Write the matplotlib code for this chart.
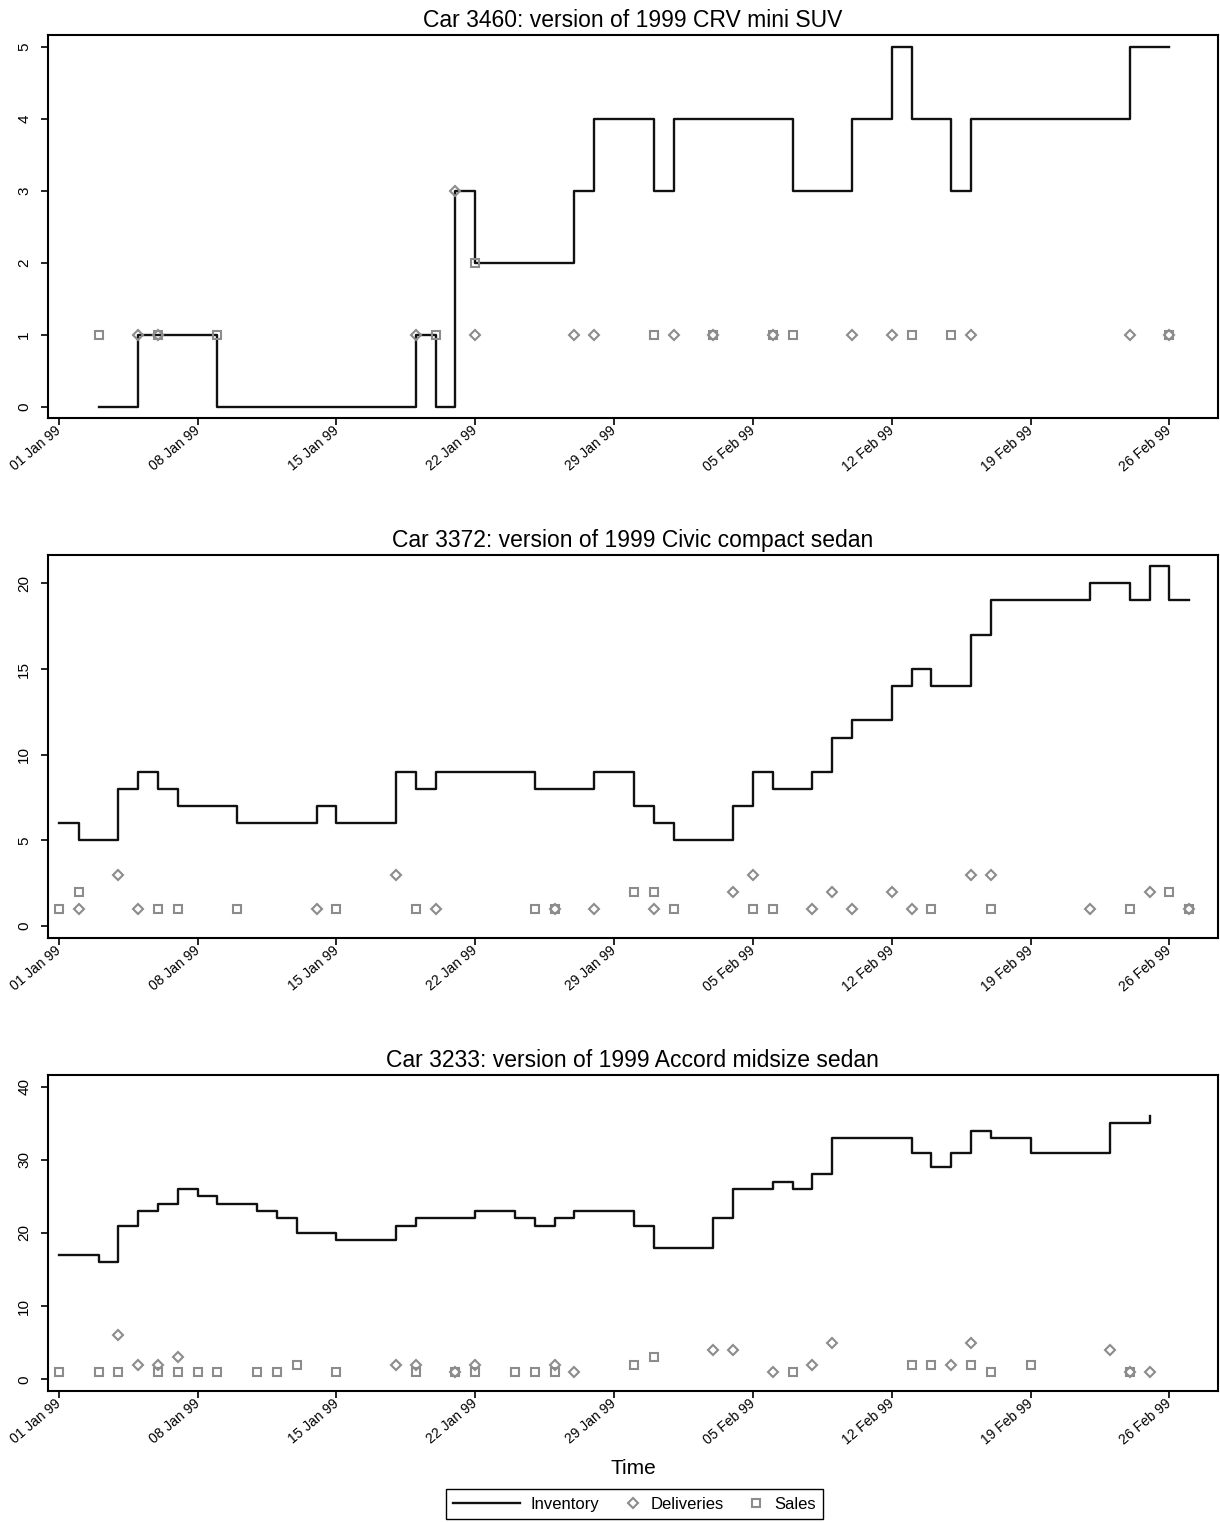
# Inventory, deliveries and sales of three 1999 car versions

import pandas as pd
import matplotlib.pyplot as plt
from matplotlib.legend_handler import HandlerLine2D

plt.rcParams['font.family'] = ['Liberation Sans', 'DejaVu Sans']

# day numbers count from 01 Jan 99
start = pd.Timestamp('1999-01-01')

titles = ['Car 3460: version of 1999 CRV mini SUV',
          'Car 3372: version of 1999 Civic compact sedan',
          'Car 3233: version of 1999 Accord midsize sedan']

# Car 3460
inv1_days = [2, 4, 5, 8, 18, 19, 20, 21, 26, 27, 30, 31, 33, 36, 37, 40, 42, 43, 45, 46, 54, 56]
inv1_vals = [0, 1, 1, 0, 1, 0, 3, 2, 3, 4, 3, 4, 4, 4, 3, 4, 5, 4, 3, 4, 5, 5]
del1_days = [4, 5, 18, 20, 21, 26, 27, 31, 33, 36, 40, 42, 46, 54, 56]
del1_vals = [1, 1, 1, 3, 1, 1, 1, 1, 1, 1, 1, 1, 1, 1, 1]
sal1_days = [2, 5, 8, 19, 21, 30, 33, 36, 37, 43, 45, 56]
sal1_vals = [1, 1, 1, 1, 2, 1, 1, 1, 1, 1, 1, 1]

# Car 3372
inv2_days = [0, 1, 3, 4, 5, 6, 9, 13, 14, 17, 18, 19, 24, 25, 27, 29, 30, 31, 34, 35, 36,
             38, 39, 40, 42, 43, 44, 46, 47, 52, 54, 55, 56, 57]
inv2_vals = [6, 5, 8, 9, 8, 7, 6, 7, 6, 9, 8, 9, 8, 8, 9, 7, 6, 5, 7, 9, 8,
             9, 11, 12, 14, 15, 14, 17, 19, 20, 19, 21, 19, 19]
del2_days = [1, 3, 4, 13, 17, 19, 25, 27, 30, 34, 35, 38, 39, 40, 42, 43, 46, 47, 52, 55, 57]
del2_vals = [1, 3, 1, 1, 3, 1, 1, 1, 1, 2, 3, 1, 2, 1, 2, 1, 3, 3, 1, 2, 1]
sal2_days = [0, 1, 5, 6, 9, 14, 18, 24, 25, 29, 30, 31, 35, 36, 44, 47, 54, 56, 57]
sal2_vals = [1, 2, 1, 1, 1, 1, 1, 1, 1, 2, 2, 1, 1, 1, 1, 1, 1, 2, 1]

# Car 3233
inv3_days = [0, 2, 3, 4, 5, 6, 7, 8, 10, 11, 12, 14, 17, 18, 20, 21, 23, 24, 25, 26, 29, 30,
             33, 34, 36, 37, 38, 39, 43, 44, 45, 46, 47, 49, 53, 54, 55]
inv3_vals = [17, 16, 21, 23, 24, 26, 25, 24, 23, 22, 20, 19, 21, 22, 22, 23, 22, 21, 22, 23, 21, 18,
             22, 26, 27, 26, 28, 33, 31, 29, 31, 34, 33, 31, 35, 35, 36]
del3_days = [3, 4, 5, 6, 17, 18, 20, 21, 25, 26, 33, 34, 36, 38, 39, 45, 46, 53, 54, 55]
del3_vals = [6, 2, 2, 3, 2, 2, 1, 2, 2, 1, 4, 4, 1, 2, 5, 2, 5, 4, 1, 1]
sal3_days = [0, 2, 3, 5, 6, 7, 8, 10, 11, 12, 14, 18, 20, 21, 23, 24, 25, 29, 30, 37, 43, 44,
             46, 47, 49, 54]
sal3_vals = [1, 1, 1, 1, 1, 1, 1, 1, 1, 2, 1, 1, 1, 1, 1, 1, 1, 2, 3, 1, 2, 2,
             2, 1, 2, 1]

panels = [
    (inv1_days, inv1_vals, del1_days, del1_vals, sal1_days, sal1_vals, [0, 1, 2, 3, 4, 5], (-0.15, 5.16)),
    (inv2_days, inv2_vals, del2_days, del2_vals, sal2_days, sal2_vals, [0, 5, 10, 15, 20], (-0.7, 21.65)),
    (inv3_days, inv3_vals, del3_days, del3_vals, sal3_days, sal3_vals, [0, 10, 20, 30, 40], (-1.6, 41.6)),
]


def to_dates(days):
    return start + pd.to_timedelta(days, unit='D')


fig = plt.figure(figsize=(12.2, 15.22), dpi=100)
boxes = [[0.0393, 0.7254, 0.959, 0.2516],
         [0.0393, 0.3837, 0.959, 0.2516],
         [0.0393, 0.0861, 0.959, 0.2076]]

grey = '#8c8c8c'
week_ticks = pd.date_range('1999-01-01', '1999-02-26', freq='7D')

for i, (ax_box, p) in enumerate(zip(boxes, panels)):
    inv_d, inv_v, del_d, del_v, sal_d, sal_v, yt, ylim = p
    ax = fig.add_axes(ax_box)
    l_inv, = ax.plot(to_dates(inv_d), inv_v, drawstyle='steps-post', color='#111111', lw=1.7,
                     label='Inventory', zorder=2)
    l_del, = ax.plot(to_dates(del_d), del_v, ls='none', marker='D', ms=5.6, mfc='none',
                     mec=grey, mew=1.5, label='Deliveries', zorder=3)
    l_sal, = ax.plot(to_dates(sal_d), sal_v, ls='none', marker='s', ms=6.4, mfc='none',
                     mec=grey, mew=1.5, label='Sales', zorder=3)
    ax.set_xlim(start - pd.Timedelta(days=0.55), start + pd.Timedelta(days=58.45))
    ax.set_ylim(ylim)
    ax.set_yticks(yt)
    ax.set_xticks(week_ticks)
    ax.set_xticklabels([d.strftime('%d %b %y') for d in week_ticks], rotation=40,
                       ha='right', va='center', rotation_mode='anchor')
    ax.tick_params(axis='x', labelsize=10, length=5, width=1.2, pad=3)
    ax.tick_params(axis='y', labelsize=11, length=5, width=1.2, pad=7, labelrotation=90)
    for lab in ax.get_yticklabels():
        lab.set_va('center')
    for s in ax.spines.values():
        s.set_linewidth(1.5)
    ax.set_title(titles[i], fontsize=16.5, pad=5.5)

ax.set_xlabel('Time', fontsize=15, labelpad=8)

marker_handler = HandlerLine2D(xpad=3.2)
fig.legend([l_inv, l_del, l_sal], ['Inventory', 'Deliveries', 'Sales'],
           loc='center', bbox_to_anchor=(0.52, 0.0115), ncol=3, fontsize=12,
           handlelength=4.0, handletextpad=0.66, columnspacing=-1.62,
           borderpad=0.45, fancybox=False, edgecolor='black', framealpha=1,
           handler_map={l_del: marker_handler, l_sal: marker_handler})

fig.savefig('out.png', dpi=100)
